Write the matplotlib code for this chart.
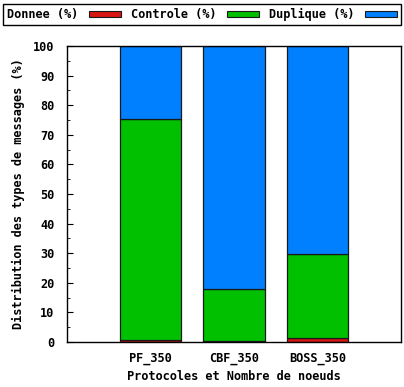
import numpy as np
import matplotlib.pyplot as plt
from matplotlib.patches import Patch
from matplotlib.ticker import MultipleLocator

protocoles = ['PF_350', 'CBF_350', 'BOSS_350']
donnee = np.array([0.8, 0.4, 1.5])
controle = np.array([74.4, 17.4, 28.2])
duplique = 100 - donnee - controle

couleurs = ['#d81414', '#00c000', '#0080ff']
labels = ['Donnee (%)', 'Controle (%)', 'Duplique (%)']

plt.rcParams['font.family'] = 'DejaVu Sans Mono'
plt.rcParams['font.weight'] = 'bold'
plt.rcParams['axes.labelweight'] = 'bold'
plt.rcParams['font.size'] = 8.6

fig = plt.figure(figsize=(4.04, 3.87), dpi=100)
ax = fig.add_axes([67 / 404, 1 - 342 / 387, 334 / 404, 296 / 387])

x = np.arange(1, len(protocoles) + 1)
w = 0.74
bas = np.zeros(len(protocoles))
for vals, c in zip([donnee, controle, duplique], couleurs):
    ax.bar(x, vals, w, bottom=bas, color=c, edgecolor='#1a1a1a', linewidth=0.9)
    bas += vals

ax.set_xlim(0, 4)
ax.set_ylim(0, 100)
ax.set_xticks(x)
ax.set_xticklabels(protocoles)
ax.yaxis.set_major_locator(MultipleLocator(10))
ax.yaxis.set_minor_locator(MultipleLocator(5))
ax.tick_params(axis='y', which='major', direction='in', length=4, width=0.8, pad=9)
ax.tick_params(axis='y', which='minor', direction='in', length=2, width=0.6)
ax.tick_params(axis='x', length=0, pad=7)
for sp in ax.spines.values():
    sp.set_linewidth(1.0)

ax.set_xlabel('Protocoles et Nombre de noeuds', labelpad=4)
ax.set_ylabel('Distribution des types de messages (%)', labelpad=6)

handles = [Patch(facecolor=c, edgecolor='#1a1a1a', linewidth=0.8) for c in couleurs]
leg = fig.legend(handles, labels, ncol=3, markerfirst=False, loc='upper center',
                 bbox_to_anchor=(0.5, 1 - 4 / 387), fancybox=False, edgecolor='black',
                 framealpha=1, handlelength=2.7, handleheight=0.5, handletextpad=0.9,
                 columnspacing=0.8, borderpad=0.35, borderaxespad=0,
                 prop={'family': 'DejaVu Sans Mono', 'weight': 'bold', 'size': 8.6})
leg.get_frame().set_linewidth(1.0)

plt.savefig('out.png', dpi=100)
plt.close()
